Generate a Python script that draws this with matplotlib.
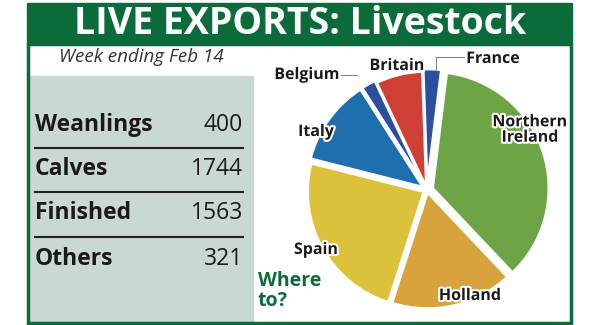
#Imports matplotlib to draw the figure
import matplotlib.pyplot as plt
import matplotlib.patches as patches
import matplotlib.patheffects as pe

#Table data (week ending Feb 14)
categories = ['Weanlings', 'Calves', 'Finished', 'Others']
counts = [400, 1744, 1563, 321]

#Where to? shares (percent), counter-clockwise from France
destinations = ['France', 'Britain', 'Belgium', 'Italy', 'Spain', 'Holland', 'Northern\nIreland']
shares = [2.5, 6.5, 2.0, 12.0, 24.0, 17.0, 36.0]
colors = ['#2b4f9e', '#cf3f36', '#2b4f9e', '#1e6fae', '#dcc23a', '#d8a23c', '#6da446']
explode = [0.04, 0.02, 0.04, 0.04, 0.03, 0.02, 0.05]

green = '#0b6b3b'
panel = '#c9d9d0'
title_font = ['Open Sans', 'DejaVu Sans']

fig = plt.figure(figsize=(6, 3.25), dpi=100)
fig.patch.set_facecolor('white')

#Background axes in pixel units for the frame, table and text
bg = fig.add_axes([0, 0, 1, 1])
bg.set_xlim(0, 600)
bg.set_ylim(325, 0)
bg.axis('off')

#Green title bar and outer frame
bg.add_patch(patches.Rectangle((27, 3), 545, 41, color=green, zorder=1))
bg.add_patch(patches.Rectangle((28, 44), 543, 279, fill=False, edgecolor=green, linewidth=2.5, zorder=3))
bg.text(300, 24, 'LIVE EXPORTS: Livestock', color='white', fontsize=27, fontweight='bold',
        family=title_font, ha='center', va='center')
bg.text(59, 57, 'Week ending Feb 14', fontsize=13.5, style='italic', color='#333333',
        family=title_font, ha='left', va='center')

#Gray table panel
bg.add_patch(patches.Rectangle((29, 76), 224, 246, color=panel, zorder=1))
row_y = [125, 169, 213, 259]
for i in range(len(categories)):
    bg.text(35, row_y[i], categories[i], fontsize=16.5, fontweight='bold', color='#1a1a1a',
            family=title_font, ha='left', va='center')
    bg.text(243, row_y[i], str(counts[i]), fontsize=16.5, color='#1a1a1a',
            family=title_font, ha='right', va='center')
    if i < len(categories) - 1:
        ly = (row_y[i] + row_y[i + 1]) / 2 + 1
        bg.plot([35, 243], [ly, ly], color='#222222', linewidth=1.5)

bg.text(258, 281, 'Where', fontsize=14, fontweight='bold', color=green, family=title_font,
        ha='left', va='center')
bg.text(258, 301, 'to?', fontsize=14, fontweight='bold', color=green, family=title_font,
        ha='left', va='center')

#Pie chart
cx, cy, half = 427, 190, 128
pie_ax = fig.add_axes([(cx - half) / 600, (325 - cy - half) / 325, 2 * half / 600, 2 * half / 325])
pie_ax.pie(shares, colors=colors, explode=explode, startangle=83, counterclock=True,
           wedgeprops=dict(edgecolor='white', linewidth=2))
pie_ax.set_xlim(-1.1, 1.1)
pie_ax.set_ylim(-1.1, 1.1)
pie_ax.set_aspect('equal')
pie_ax.axis('off')

#Transparent top layer for slice labels
top = fig.add_axes([0, 0, 1, 1])
top.set_xlim(0, 600)
top.set_ylim(325, 0)
top.axis('off')
top.patch.set_alpha(0)

label_pos = {'France': (493, 59), 'Britain': (397, 66), 'Belgium': (307, 75), 'Italy': (316, 132),
             'Spain': (316, 250), 'Holland': (470, 296), 'Northern\nIreland': (530, 130)}
halo = [pe.withStroke(linewidth=3, foreground='white')]
for name in destinations:
    x, y = label_pos[name]
    top.text(x, y, name, fontsize=11.5, fontweight='bold', color='#1a1a1a',
             family=title_font, ha='center', va='center', linespacing=0.95, path_effects=halo)
#Leader lines for the thin slices
top.plot([341, 357], [75, 75], color='#888888', linewidth=0.8)
top.plot([436, 436, 464], [70, 57, 57], color='#888888', linewidth=0.8)

fig.savefig('out.png', dpi=100)
